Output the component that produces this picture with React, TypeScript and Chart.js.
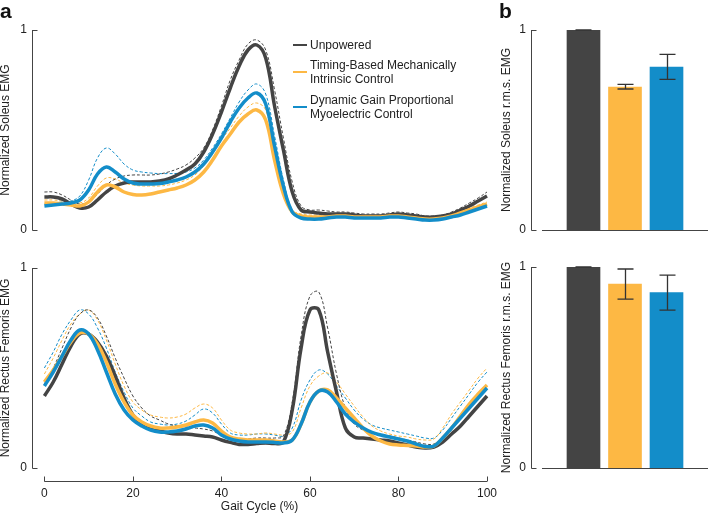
import React, { useEffect, useRef } from "react";
import { Chart, registerables } from "chart.js";

Chart.register(...registerables);

// ---------- data ----------
const GAIT = [0, 2, 4, 6, 8, 10, 12, 14, 16, 18, 20, 22, 24, 26, 28, 30, 32, 34, 36, 38, 40, 42, 44, 46, 48, 50, 52, 54, 56, 58, 60, 62, 64, 66, 68, 70, 72, 74, 76, 78, 80, 82, 84, 86, 88, 90, 92, 94, 96, 98, 100];
const GAIT_TICKS = [0, 20, 40, 60, 80, 100];
const Y_TICKS = [0, 1];

const SERIES_NAMES = ["Unpowered", "Timing-Based Mechanically Intrinsic Control", "Dynamic Gain Proportional Myoelectric Control"];

// Soleus EMG (mean)
const SOL_UNPOWERED = [0.165, 0.165, 0.155, 0.13, 0.11, 0.115, 0.15, 0.19, 0.22, 0.235, 0.24, 0.24, 0.24, 0.245, 0.255, 0.275, 0.3, 0.33, 0.39, 0.48, 0.59, 0.71, 0.82, 0.9, 0.925, 0.86, 0.62, 0.4, 0.19, 0.1, 0.09, 0.085, 0.08, 0.08, 0.08, 0.075, 0.07, 0.07, 0.07, 0.075, 0.08, 0.075, 0.07, 0.065, 0.065, 0.07, 0.08, 0.1, 0.12, 0.145, 0.17];
const SOL_TIMING = [0.135, 0.135, 0.13, 0.125, 0.12, 0.14, 0.19, 0.225, 0.215, 0.19, 0.178, 0.175, 0.18, 0.19, 0.2, 0.21, 0.225, 0.25, 0.29, 0.35, 0.42, 0.48, 0.54, 0.58, 0.6, 0.55, 0.35, 0.18, 0.09, 0.07, 0.065, 0.065, 0.065, 0.07, 0.07, 0.065, 0.065, 0.065, 0.065, 0.07, 0.07, 0.065, 0.06, 0.055, 0.055, 0.06, 0.07, 0.085, 0.1, 0.115, 0.13];
const SOL_DYNAMIC = [0.12, 0.125, 0.13, 0.135, 0.15, 0.2, 0.28, 0.315, 0.29, 0.255, 0.235, 0.23, 0.23, 0.232, 0.24, 0.25, 0.265, 0.29, 0.33, 0.39, 0.46, 0.54, 0.61, 0.66, 0.685, 0.63, 0.42, 0.22, 0.09, 0.06, 0.055, 0.055, 0.06, 0.065, 0.065, 0.06, 0.06, 0.06, 0.06, 0.065, 0.065, 0.06, 0.055, 0.05, 0.05, 0.055, 0.065, 0.075, 0.09, 0.105, 0.12];
// Soleus EMG (mean + s.d.)
const SOL_UNPOWERED_SD = [0.19, 0.19, 0.175, 0.15, 0.13, 0.14, 0.18, 0.225, 0.255, 0.27, 0.275, 0.275, 0.275, 0.28, 0.29, 0.305, 0.325, 0.36, 0.41, 0.5, 0.62, 0.75, 0.85, 0.93, 0.95, 0.9, 0.7, 0.46, 0.24, 0.12, 0.1, 0.1, 0.095, 0.09, 0.09, 0.085, 0.08, 0.08, 0.08, 0.085, 0.09, 0.085, 0.08, 0.07, 0.07, 0.075, 0.09, 0.11, 0.135, 0.16, 0.19];
const SOL_TIMING_SD = [0.15, 0.15, 0.145, 0.14, 0.135, 0.16, 0.22, 0.26, 0.255, 0.235, 0.225, 0.22, 0.22, 0.22, 0.225, 0.235, 0.25, 0.275, 0.32, 0.38, 0.45, 0.51, 0.57, 0.615, 0.635, 0.6, 0.4, 0.2, 0.1, 0.08, 0.075, 0.075, 0.075, 0.08, 0.08, 0.075, 0.075, 0.075, 0.075, 0.08, 0.08, 0.075, 0.07, 0.065, 0.065, 0.07, 0.08, 0.095, 0.11, 0.125, 0.14];
const SOL_DYNAMIC_SD = [0.13, 0.135, 0.14, 0.145, 0.17, 0.25, 0.36, 0.41, 0.38, 0.33, 0.3, 0.29, 0.285, 0.282, 0.282, 0.283, 0.29, 0.31, 0.35, 0.41, 0.48, 0.56, 0.64, 0.7, 0.73, 0.68, 0.47, 0.25, 0.1, 0.07, 0.065, 0.065, 0.07, 0.075, 0.075, 0.07, 0.07, 0.07, 0.07, 0.075, 0.075, 0.07, 0.065, 0.06, 0.06, 0.065, 0.075, 0.085, 0.1, 0.115, 0.13];

// Rectus femoris EMG (mean)
const RF_UNPOWERED = [0.36, 0.43, 0.52, 0.61, 0.67, 0.67, 0.63, 0.56, 0.46, 0.35, 0.265, 0.215, 0.195, 0.185, 0.175, 0.17, 0.17, 0.165, 0.16, 0.155, 0.14, 0.128, 0.118, 0.118, 0.122, 0.125, 0.122, 0.13, 0.29, 0.6, 0.79, 0.79, 0.58, 0.38, 0.2, 0.155, 0.15, 0.145, 0.14, 0.135, 0.125, 0.115, 0.105, 0.1, 0.105, 0.13, 0.17, 0.21, 0.26, 0.31, 0.36];
const RF_TIMING = [0.43, 0.49, 0.56, 0.63, 0.675, 0.67, 0.62, 0.53, 0.42, 0.33, 0.265, 0.23, 0.21, 0.2, 0.2, 0.205, 0.215, 0.23, 0.24, 0.225, 0.185, 0.155, 0.145, 0.14, 0.14, 0.14, 0.135, 0.13, 0.14, 0.22, 0.33, 0.385, 0.39, 0.35, 0.3, 0.25, 0.2, 0.16, 0.135, 0.12, 0.115, 0.113, 0.11, 0.105, 0.11, 0.15, 0.2, 0.26, 0.32, 0.37, 0.415];
const RF_DYNAMIC = [0.41, 0.48, 0.56, 0.64, 0.69, 0.67, 0.59, 0.48, 0.37, 0.29, 0.24, 0.21, 0.19, 0.18, 0.18, 0.185, 0.195, 0.21, 0.215, 0.2, 0.165, 0.145, 0.135, 0.13, 0.13, 0.13, 0.128, 0.125, 0.14, 0.22, 0.33, 0.385, 0.38, 0.33, 0.27, 0.23, 0.2, 0.178, 0.165, 0.155, 0.145, 0.135, 0.12, 0.108, 0.11, 0.15, 0.2, 0.25, 0.3, 0.35, 0.4];
// Rectus femoris EMG (mean + s.d.)
const RF_UNPOWERED_SD = [0.42, 0.5, 0.6, 0.7, 0.77, 0.79, 0.75, 0.66, 0.55, 0.45, 0.36, 0.3, 0.26, 0.24, 0.22, 0.21, 0.205, 0.2, 0.195, 0.185, 0.165, 0.15, 0.145, 0.145, 0.15, 0.15, 0.15, 0.16, 0.33, 0.66, 0.86, 0.88, 0.7, 0.47, 0.3, 0.22, 0.19, 0.175, 0.165, 0.16, 0.15, 0.14, 0.13, 0.12, 0.12, 0.15, 0.2, 0.25, 0.3, 0.35, 0.4];
const RF_TIMING_SD = [0.47, 0.55, 0.64, 0.72, 0.77, 0.79, 0.74, 0.64, 0.52, 0.41, 0.33, 0.29, 0.265, 0.255, 0.25, 0.255, 0.27, 0.3, 0.32, 0.3, 0.24, 0.19, 0.175, 0.17, 0.17, 0.175, 0.17, 0.165, 0.18, 0.3, 0.41, 0.46, 0.475, 0.43, 0.37, 0.31, 0.255, 0.21, 0.185, 0.17, 0.16, 0.155, 0.145, 0.14, 0.145, 0.2, 0.27, 0.33, 0.39, 0.45, 0.5];
const RF_DYNAMIC_SD = [0.5, 0.58, 0.67, 0.74, 0.79, 0.77, 0.7, 0.6, 0.48, 0.38, 0.3, 0.26, 0.23, 0.22, 0.215, 0.22, 0.235, 0.265, 0.295, 0.275, 0.22, 0.175, 0.165, 0.165, 0.17, 0.17, 0.165, 0.16, 0.2, 0.34, 0.44, 0.49, 0.47, 0.41, 0.35, 0.29, 0.245, 0.215, 0.2, 0.19, 0.18, 0.17, 0.16, 0.15, 0.15, 0.19, 0.25, 0.31, 0.37, 0.43, 0.48];

// r.m.s. bars
const CONDITION_INDEX = [1, 2, 3];
const SOL_RMS = [1.0, 0.715, 0.815];
const SOL_RMS_LOW = [1.0, 0.705, 0.753];
const SOL_RMS_HIGH = [1.0, 0.728, 0.878];
const RF_RMS = [1.0, 0.915, 0.873];
const RF_RMS_LOW = [1.0, 0.84, 0.785];
const RF_RMS_HIGH = [1.0, 0.99, 0.96];

// ---------- styles ----------
const DARK = "#444444";
const YELLOW = "#FDB844";
const BLUE = "#138DC9";
const COLORS = [DARK, YELLOW, BLUE];
const TEXT = "#222222";
const AXIS = "#444444";
const FONT = "'Liberation Sans', Arial, Helvetica, sans-serif";

const spinePlugin = {
  id: "spines",
  afterDraw(chart: any, _args: any, opts: any) {
    const { ctx, chartArea } = chart;
    const xs = chart.scales.x;
    const ys = chart.scales.y;
    ctx.save();
    ctx.strokeStyle = AXIS;
    ctx.lineWidth = 1;
    const seg = (x1: number, y1: number, x2: number, y2: number) => {
      ctx.beginPath();
      ctx.moveTo(x1, y1);
      ctx.lineTo(x2, y2);
      ctx.stroke();
    };
    const xL = Math.round(chartArea.left) + 0.5;
    seg(xL, ys.getPixelForValue(0) + 0.5, xL, ys.getPixelForValue(1));
    for (const v of Y_TICKS) {
      const y = Math.round(ys.getPixelForValue(v)) + 0.5;
      seg(xL, y, xL + 5, y);
    }
    if (opts && opts.xAxis) {
      const yB = Math.round(ys.getPixelForValue(0) + (opts.xOffset || 0)) + 0.5;
      seg(xs.getPixelForValue(opts.xFrom), yB, xs.getPixelForValue(opts.xTo), yB);
      for (const t of opts.xTicks || []) {
        const x = Math.round(xs.getPixelForValue(t)) + 0.5;
        seg(x, yB, x, yB - 5);
      }
    }
    ctx.restore();
  },
};

const errorBarPlugin = {
  id: "errbars",
  afterDatasetsDraw(chart: any, _args: any, opts: any) {
    if (!opts || !opts.low) return;
    const { ctx } = chart;
    const xs = chart.scales.x;
    const ys = chart.scales.y;
    ctx.save();
    ctx.strokeStyle = "#333333";
    ctx.lineWidth = 1.3;
    opts.pos.forEach((p: number, i: number) => {
      const x = Math.round(xs.getPixelForValue(p)) + 0.5;
      const yl = ys.getPixelForValue(opts.low[i]);
      const yh = ys.getPixelForValue(opts.high[i]);
      const cap = 8;
      ctx.beginPath();
      ctx.moveTo(x, yl);
      ctx.lineTo(x, yh);
      ctx.moveTo(x - cap, yl);
      ctx.lineTo(x + cap, yl);
      ctx.moveTo(x - cap, yh);
      ctx.lineTo(x + cap, yh);
      ctx.stroke();
    });
    ctx.restore();
  },
};

function yAxis(title: string, width: number, titlePad: number) {
  return {
    type: "linear",
    min: 0,
    max: 1,
    grid: { display: false, drawTicks: false },
    border: { display: false },
    afterBuildTicks: (s: any) => {
      s.ticks = Y_TICKS.map((v) => ({ value: v }));
    },
    afterFit: (s: any) => {
      s.width = width;
      s.paddingTop = 0;
      s.paddingBottom = 0;
    },
    ticks: {
      padding: 5,
      color: TEXT,
      font: { family: FONT, size: 12 },
      callback: (v: any) => String(v),
    },
    title: {
      display: true,
      text: title,
      color: TEXT,
      font: { family: FONT, size: 12 },
      padding: { top: titlePad, bottom: 0 },
    },
  };
}

function lineDatasets(means: number[][], sds: number[][]) {
  const ds: any[] = [];
  sds.forEach((arr, i) => {
    ds.push({
      label: SERIES_NAMES[i] + " s.d.",
      data: GAIT.map((g, k) => ({ x: g, y: arr[k] })),
      borderColor: COLORS[i],
      borderWidth: 1,
      borderDash: [3, 2],
      pointRadius: 0,
      tension: 0.4,
      fill: false,
      clip: false,
      order: 5 + i,
    });
  });
  const solidOrder = [2, 1, 0];
  means.forEach((arr, i) => {
    ds.push({
      label: SERIES_NAMES[i],
      data: GAIT.map((g, k) => ({ x: g, y: arr[k] })),
      borderColor: COLORS[i],
      borderWidth: 3.5,
      pointRadius: 0,
      tension: 0.4,
      fill: false,
      clip: false,
      order: solidOrder[i],
    });
  });
  return ds;
}

function lineConfig(means: number[][], sds: number[][], yTitle: string, showX: boolean, padTop: number, padBottom: number) {
  return {
    type: "line",
    data: { datasets: lineDatasets(means, sds) },
    options: {
      responsive: false,
      animation: false,
      layout: { padding: { top: padTop, bottom: padBottom, left: 0, right: 13 } },
      plugins: {
        legend: { display: false },
        tooltip: { enabled: false },
        spines: showX ? { xAxis: true, xFrom: 0, xTo: 100, xOffset: 13, xTicks: GAIT_TICKS } : {},
      },
      scales: {
        x: {
          type: "linear",
          min: -2.8,
          max: 100,
          display: showX,
          grid: { display: false, drawTicks: false },
          border: { display: false },
          afterBuildTicks: (s: any) => {
            s.ticks = GAIT_TICKS.map((v) => ({ value: v }));
          },
          afterFit: (s: any) => {
            if (showX) s.height = 46;
            s.paddingLeft = 0;
            s.paddingRight = 0;
          },
          ticks: {
            padding: 18,
            maxRotation: 0,
            autoSkip: false,
            color: TEXT,
            font: { family: FONT, size: 12 },
            callback: (v: any) => String(v),
          },
          title: {
            display: showX,
            text: "Gait Cycle (%)",
            color: TEXT,
            font: { family: FONT, size: 12 },
            padding: 0,
          },
        },
        y: yAxis(yTitle, 32, -2),
      },
    },
    plugins: [spinePlugin],
  };
}

function barConfig(values: number[], low: number[], high: number[], yTitle: string, padTop: number, padBottom: number) {
  return {
    type: "bar",
    data: {
      datasets: [
        {
          label: "r.m.s. EMG",
          data: CONDITION_INDEX.map((c, i) => ({ x: c, y: values[i] })),
          backgroundColor: COLORS,
          borderWidth: 0,
          barThickness: 33,
        },
      ],
    },
    options: {
      responsive: false,
      animation: false,
      layout: { padding: { top: padTop, bottom: padBottom, left: 0, right: 0 } },
      plugins: {
        legend: { display: false },
        tooltip: { enabled: false },
        spines: { xAxis: true, xFrom: 0, xTo: 4, xOffset: 0, xTicks: [] },
        errbars: { pos: CONDITION_INDEX, low, high },
      },
      scales: {
        x: {
          type: "linear",
          min: -0.265,
          max: 4.024,
          offset: false,
          display: false,
          grid: { display: false },
        },
        y: yAxis(yTitle, 31, -1),
      },
    },
    plugins: [spinePlugin, errorBarPlugin],
  };
}

function ChartBox(props: { left: number; top: number; width: number; height: number; make: () => any }) {
  const ref = useRef<HTMLCanvasElement>(null);
  useEffect(() => {
    const chart = new Chart(ref.current as HTMLCanvasElement, props.make());
    return () => chart.destroy();
  }, []);
  return (
    <div style={{ position: "absolute", left: props.left, top: props.top, width: props.width, height: props.height }}>
      <canvas ref={ref} width={props.width} height={props.height} style={{ display: "block" }} />
    </div>
  );
}

const legendText: React.CSSProperties = {
  position: "absolute",
  left: 310,
  fontFamily: FONT,
  fontSize: 12,
  lineHeight: "14px",
  color: TEXT,
  whiteSpace: "nowrap",
};

function Legend() {
  const items = [
    { top: 38, marker: 44, lines: ["Unpowered"] },
    { top: 58, marker: 71, lines: ["Timing-Based Mechanically", "Intrinsic Control"] },
    { top: 93, marker: 106, lines: ["Dynamic Gain Proportional", "Myoelectric Control"] },
  ];
  return (
    <>
      {items.map((it, i) => (
        <React.Fragment key={i}>
          <div style={{ position: "absolute", left: 293, top: it.marker, width: 14, height: 2, background: COLORS[i] }} />
          <div style={{ ...legendText, top: it.top }}>
            {it.lines.map((l, k) => (
              <div key={k}>{l}</div>
            ))}
          </div>
        </React.Fragment>
      ))}
    </>
  );
}

const panelLabel: React.CSSProperties = {
  position: "absolute",
  fontFamily: FONT,
  fontWeight: "bold",
  fontSize: 21,
  lineHeight: "21px",
  color: "#111",
};

export default function App() {
  return (
    <div style={{ position: "absolute", left: 0, top: 0, width: 709, height: 514, background: "#fff", overflow: "hidden" }}>
      <ChartBox left={0} top={0} width={500} height={250}
        make={() => lineConfig([SOL_UNPOWERED, SOL_TIMING, SOL_DYNAMIC], [SOL_UNPOWERED_SD, SOL_TIMING_SD, SOL_DYNAMIC_SD], "Normalized Soleus EMG", false, 30, 20)} />
      <ChartBox left={0} top={250} width={500} height={264}
        make={() => lineConfig([RF_UNPOWERED, RF_TIMING, RF_DYNAMIC], [RF_UNPOWERED_SD, RF_TIMING_SD, RF_DYNAMIC_SD], "Normalized Rectus Femoris EMG", true, 18, 0)} />
      <ChartBox left={500} top={0} width={209} height={250}
        make={() => barConfig(SOL_RMS, SOL_RMS_LOW, SOL_RMS_HIGH, "Normalized Soleus r.m.s. EMG", 30, 20)} />
      <ChartBox left={500} top={250} width={209} height={264}
        make={() => barConfig(RF_RMS, RF_RMS_LOW, RF_RMS_HIGH, "Normalized Rectus Femoris r.m.s. EMG", 17, 46)} />
      <Legend />
      <div style={{ ...panelLabel, left: 0, top: 0 }}>a</div>
      <div style={{ ...panelLabel, left: 499, top: 0 }}>b</div>
    </div>
  );
}
